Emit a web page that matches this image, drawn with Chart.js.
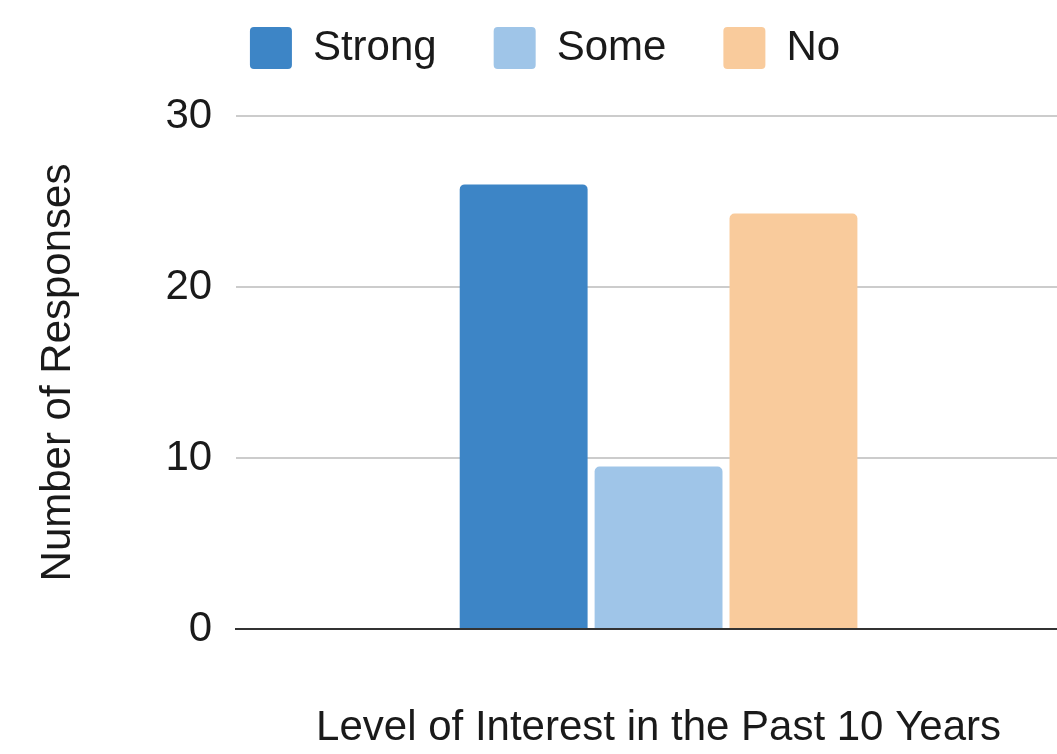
<!DOCTYPE html>
<html>
<head>
<meta charset="utf-8">
<title>Level of Interest in the Past 10 Years</title>
<script src="https://cdn.jsdelivr.net/npm/chart.js@4/dist/chart.umd.min.js"></script>
<style>
  html, body { margin: 0; padding: 0; background: #fff; overflow: hidden; }
  canvas { display: block; }
</style>
</head>
<body>
<canvas id="chart" width="1081" height="754"></canvas>
<script>
// Survey responses: one group, three levels of interest
const categories = [''];
const seriesNames = ['Strong', 'Some', 'No'];
const strongValues = [26];
const someValues = [9.5];
const noValues = [24.3];
const seriesColors = ['#3d85c6', '#9fc5e8', '#f9cb9c'];
const yMin = 0;
const yMax = 30;
const yStep = 10;

const FONT = '"Liberation Sans", Arial, Helvetica, sans-serif';
const TEXT = '#1a1a1a';

const seriesValues = [strongValues, someValues, noValues];

// Extra room below the legend before the plot starts
const legendGap = {
  id: 'legendGap',
  beforeInit(chart) {
    const fit = chart.legend.fit;
    chart.legend.fit = function () {
      fit.call(this);
      this.height += 37;
    };
  }
};

new Chart(document.getElementById('chart'), {
  type: 'bar',
  data: {
    labels: categories,
    datasets: seriesNames.map((name, i) => ({
      label: name,
      data: seriesValues[i],
      backgroundColor: seriesColors[i],
      borderWidth: 0,
      borderRadius: 5,
      categoryPercentage: 0.479,
      barPercentage: 0.948
    }))
  },
  options: {
    responsive: false,
    animation: false,
    devicePixelRatio: 1,
    layout: { padding: { top: -30, left: 9, right: 0, bottom: 0 } },
    plugins: {
      tooltip: { enabled: false },
      legend: {
        position: 'top',
        align: 'center',
        labels: {
          boxWidth: 42,
          boxHeight: 42,
          padding: 57,
          useBorderRadius: true,
          borderRadius: 4,
          color: TEXT,
          font: { family: FONT, size: 42 }
        }
      }
    },
    scales: {
      x: {
        grid: { display: false, drawTicks: false },
        border: { display: true, color: '#333333', width: 2 },
        ticks: { display: false },
        title: {
          display: true,
          text: 'Level of Interest in the Past 10 Years',
          color: TEXT,
          font: { family: FONT, size: 42 },
          padding: { top: 74.6, bottom: 0 }
        }
      },
      y: {
        min: yMin,
        max: yMax,
        grid: {
          drawTicks: false,
          lineWidth: 2,
          color: (ctx) => (ctx.tick && ctx.tick.value === 0 ? '#333333' : '#cccccc')
        },
        border: { display: false },
        ticks: {
          stepSize: yStep,
          padding: 24,
          color: TEXT,
          font: { family: FONT, size: 42 }
        },
        title: {
          display: true,
          text: 'Number of Responses',
          color: TEXT,
          font: { family: FONT, size: 42 },
          padding: { top: 24, bottom: 58 }
        }
      }
    }
  },
  plugins: [legendGap]
});
</script>
</body>
</html>
